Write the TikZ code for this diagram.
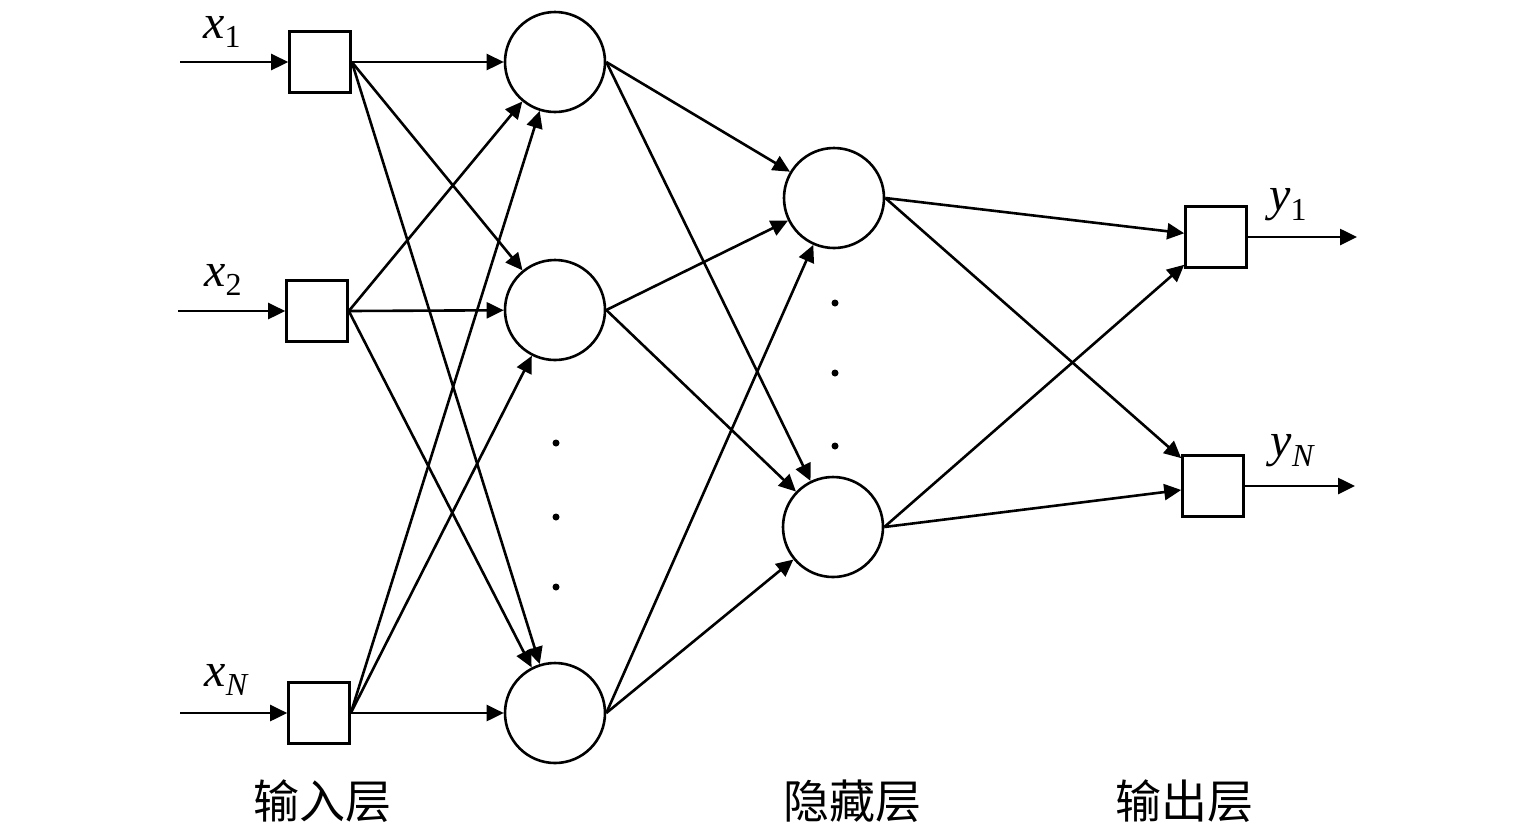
\documentclass[tikz,border=0pt]{standalone}
\usepackage{fontspec}
\setmainfont{Liberation Serif}
\newfontfamily\cjk{Noto Sans CJK SC}
\usetikzlibrary{arrows.meta}
\tikzset{
  unit/.style={draw,rectangle,minimum size=30.5pt,inner sep=0pt},
  neuron/.style={draw,circle,minimum size=50pt,inner sep=0pt},
  lbl/.style={inner sep=0pt,font=\fontsize{24}{28}\selectfont},
  layer/.style={inner sep=0pt,font=\cjk\fontsize{23}{27}\selectfont},
  dot/.style={fill,circle,inner sep=0pt,minimum size=3.5pt}
}
\newcommand{\varsub}[2]{\textit{#1}\raisebox{-0.45ex}{\fontsize{16}{18}\selectfont #2}}
\begin{document}
\begin{tikzpicture}[x=0.5pt,y=-0.5pt,line width=1.3pt,
    >={Triangle[length=8.5pt,width=8pt]}]
  \useasboundingbox (0,0) rectangle (1535,832);
  \draw
    (320,62) node[unit] (i1){}
    (317,311) node[unit] (i2){}
    (319,713) node[unit] (iN){}
    (555,62) node[neuron] (h1){}
    (555,310) node[neuron] (h2){}
    (555,713) node[neuron] (h3){}
    (834,198) node[neuron] (g1){}
    (833,527) node[neuron] (g2){}
    (1216,237) node[unit] (o1){}
    (1213,486) node[unit] (oN){};
  \coordinate (in1) at (180,62);
  \coordinate (in2) at (178,311);
  \coordinate (inN) at (180,713);
  \coordinate (out1) at (1357,237);
  \coordinate (outN) at (1355,486);
  % ellipsis dots
  \foreach \y in {443,517,587} \node[dot] (dh\y) at (556,\y) {};
  \foreach \y in {303,373,446} \node[dot] (dg\y) at (835,\y) {};
  % labels
  \node[lbl] (lx1) at (222,32) {\varsub{x}{1}};
  \node[lbl] (lx2) at (223,280) {\varsub{x}{2}};
  \node[lbl] (lxN) at (226,680) {\varsub{x}{\itshape N}};
  \node[lbl] (ly1) at (1288,205) {\varsub{y}{1}};
  \node[lbl] (lyN) at (1292,451) {\varsub{y}{\itshape N}};
  \node[layer] (t1) at (322,801) {输入层};
  \node[layer] (t2) at (852,801) {隐藏层};
  \node[layer] (t3) at (1184,801) {输出层};
  \begin{scope}[->]
    \draw (in1) to (i1);
    \draw (in2) to (i2);
    \draw (inN) to (iN);
    \draw (i1.east) to (h1);
    \draw (i1.east) to (h2);
    \draw (i1.east) to (h3);
    \draw (i2.east) to (h1);
    \draw (i2.east) to (h2);
    \draw (i2.east) to (h3);
    \draw (iN.east) to (h1);
    \draw (iN.east) to (h2);
    \draw (iN.east) to (h3);
    \draw (h1.east) to (g1);
    \draw (h1.east) to (g2);
    \draw (h2.east) to (g1);
    \draw (h2.east) to (g2);
    \draw (h3.east) to (g1);
    \draw (h3.east) to (g2);
    \draw (g1.east) to (o1);
    \draw (g1.east) to (oN);
    \draw (g2.east) to (o1);
    \draw (g2.east) to (oN);
    \draw (o1) to (out1);
    \draw (oN) to (outN);
  \end{scope}
\end{tikzpicture}
\end{document}
